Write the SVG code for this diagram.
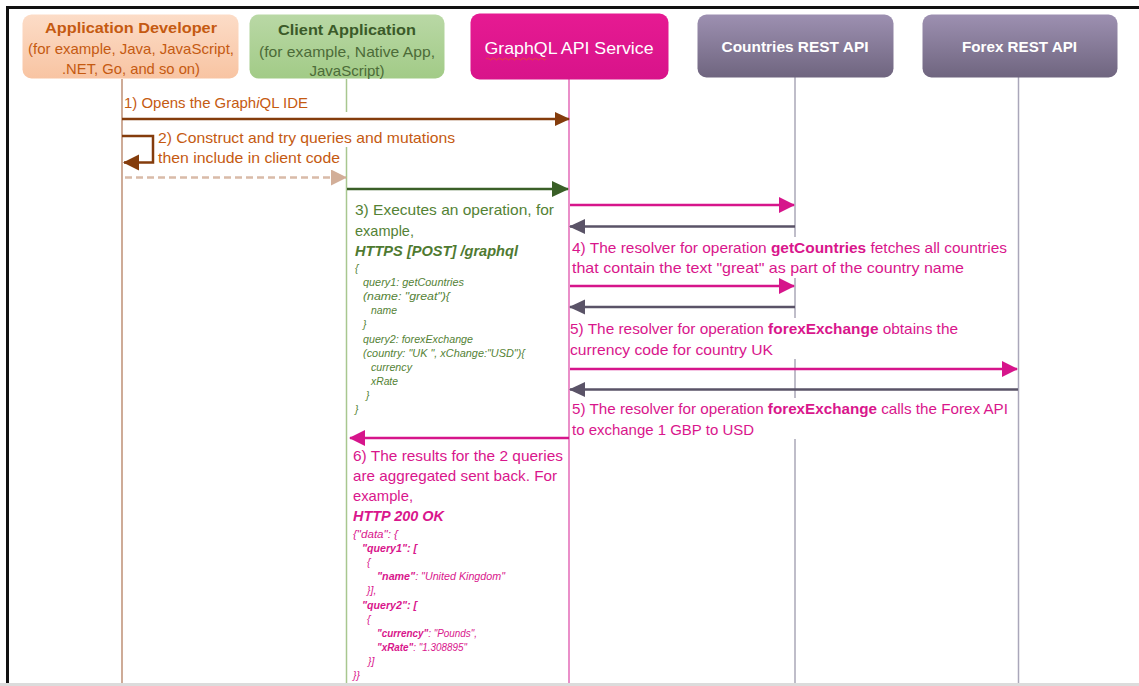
<svg xmlns="http://www.w3.org/2000/svg" width="1139" height="686" viewBox="0 0 1139 686">
<style>
text{font-family:"Liberation Sans",Arial,sans-serif}
.t{font-size:15px}
.o{fill:#c55a11}
.g{fill:#548235}
.p{fill:#d9168c}
.code{font-size:10.5px;font-style:italic}
.b{font-weight:bold}
.bg{fill:#ffffff}
.life{fill:none;stroke-width:1.5}
.hd{font-size:15px;text-anchor:middle}
</style>
<defs>
<linearGradient id="gDev" x1="0" y1="0" x2="0" y2="1"><stop offset="0" stop-color="#fcdcc7"/><stop offset="1" stop-color="#f8c4a2"/></linearGradient>
<linearGradient id="gCli" x1="0" y1="0" x2="0" y2="1"><stop offset="0" stop-color="#b9d8a5"/><stop offset="1" stop-color="#a2cb87"/></linearGradient>
<linearGradient id="gGql" x1="0" y1="0" x2="0" y2="1"><stop offset="0" stop-color="#e61a92"/><stop offset="1" stop-color="#d8138a"/></linearGradient>
<linearGradient id="gRest" x1="0" y1="0" x2="0" y2="1"><stop offset="0" stop-color="#9d90b1"/><stop offset="1" stop-color="#6f657f"/></linearGradient>
<marker id="aBrown" markerUnits="userSpaceOnUse" markerWidth="18" markerHeight="18" refX="14" refY="7" orient="auto"><path d="M0,0 L15,7 L0,14 z" fill="#843c0c"/></marker>
<marker id="aBrownL" markerUnits="userSpaceOnUse" markerWidth="18" markerHeight="18" refX="15" refY="8" orient="auto"><path d="M0,0 L16,8 L0,16 z" fill="#843c0c"/></marker>
<marker id="aTan" markerUnits="userSpaceOnUse" markerWidth="18" markerHeight="18" refX="15" refY="8" orient="auto"><path d="M0,0 L16,8 L0,16 z" fill="#d2ae98"/></marker>
<marker id="aGreen" markerUnits="userSpaceOnUse" markerWidth="18" markerHeight="18" refX="16" refY="8" orient="auto"><path d="M0,0 L17,8 L0,16 z" fill="#3a5f27"/></marker>
<marker id="aPink" markerUnits="userSpaceOnUse" markerWidth="18" markerHeight="18" refX="15" refY="8" orient="auto"><path d="M0,0 L16,8 L0,16 z" fill="#d6158b"/></marker>
<marker id="aDark" markerUnits="userSpaceOnUse" markerWidth="18" markerHeight="18" refX="15" refY="7.5" orient="auto"><path d="M0,0 L16,7.5 L0,15 z" fill="#5a5367"/></marker>
</defs>
<rect width="1139" height="686" fill="#ffffff"/>
<!-- frame -->
<line x1="6" y1="7.5" x2="1139" y2="7.5" stroke="#111" stroke-width="3"/>
<line x1="7.5" y1="6" x2="7.5" y2="684" stroke="#111" stroke-width="3"/>
<rect x="0" y="683" width="1139" height="3" fill="#dcdcdc"/>

<!-- lifelines -->
<g id="lifelines">
<line class="life" x1="122" y1="79" x2="122" y2="683" stroke="#be8f74"/>
<line class="life" x1="346.5" y1="79" x2="346.5" y2="683" stroke="#a8c78f"/>
<line class="life" x1="569" y1="79" x2="569" y2="683" stroke="#e36ab7"/>
<line class="life" x1="795" y1="77" x2="795" y2="683" stroke="#aaa7b7"/>
<line class="life" x1="1018.5" y1="77" x2="1018.5" y2="683" stroke="#aaa7ba"/>
</g>

<!-- label backgrounds -->
<g id="label-bgs">
<rect class="bg" x="155" y="112" width="302" height="35"/>
<rect class="bg" x="350" y="198" width="212" height="220"/>
<rect class="bg" x="571" y="237" width="440" height="41"/>
<rect class="bg" x="571" y="318" width="390" height="41"/>
<rect class="bg" x="571" y="398" width="440" height="41"/>
<rect class="bg" x="350" y="445" width="214" height="237"/>
</g>

<!-- headers -->
<g id="app-developer">
<rect x="22.5" y="14.5" width="216" height="64" rx="9" fill="url(#gDev)"/>
<text class="hd o b" x="131" y="33" textLength="172" lengthAdjust="spacingAndGlyphs">Application Developer</text>
<text class="hd o" x="131" y="54" textLength="206" lengthAdjust="spacingAndGlyphs">(for example, Java, JavaScript,</text>
<text class="hd o" x="131" y="74" textLength="138" lengthAdjust="spacingAndGlyphs">.NET, Go, and so on)</text>
</g>
<g id="client-application">
<rect x="249.5" y="14.5" width="195" height="64" rx="9" fill="url(#gCli)"/>
<text class="hd b" x="347" y="35" fill="#3b5a29" textLength="138" lengthAdjust="spacingAndGlyphs">Client Application</text>
<text class="hd" x="347" y="57" fill="#4c6b38" textLength="176" lengthAdjust="spacingAndGlyphs">(for example, Native App,</text>
<text class="hd" x="347" y="76" fill="#4c6b38" textLength="75" lengthAdjust="spacingAndGlyphs">JavaScript)</text>
</g>
<g id="graphql-api-service">
<rect x="470.5" y="13.5" width="198" height="66" rx="9" fill="url(#gGql)"/>
<text x="569" y="54" font-size="17" fill="#ffffff" text-anchor="middle" textLength="169" lengthAdjust="spacingAndGlyphs">GraphQL API Service</text>
<path d="M486,59 q1.5,-2 3,0 t3,0 t3,0 t3,0 t3,0 t3,0 t3,0 t3,0 t3,0 t3,0 t3,0 t3,0 t3,0 t3,0 t3,0 t3,0 t3,0 t3,0 t3,0 t3,0" fill="none" stroke="#e8433f" stroke-width="1"/>
</g>
<g id="countries-rest-api">
<rect x="697.5" y="14.5" width="196" height="63" rx="9" fill="url(#gRest)"/>
<text class="hd b" x="795" y="52" fill="#ffffff" textLength="147" lengthAdjust="spacingAndGlyphs">Countries REST API</text>
</g>
<g id="forex-rest-api">
<rect x="922.5" y="14.5" width="195" height="63" rx="9" fill="url(#gRest)"/>
<text class="hd b" x="1019.5" y="52" fill="#ffffff" textLength="115" lengthAdjust="spacingAndGlyphs">Forex REST API</text>
</g>

<!-- connectors -->
<g id="connectors" fill="none" stroke-width="2.5">
<line x1="122" y1="119" x2="569" y2="119" stroke="#843c0c" marker-end="url(#aBrown)"/>
<path d="M122,136 H153 V162.5 H124" stroke="#843c0c" marker-end="url(#aBrownL)"/>
<line x1="125" y1="177.5" x2="346" y2="177.5" stroke="#d9bba8" stroke-dasharray="7,4" marker-end="url(#aTan)"/>
<line x1="347" y1="189" x2="568" y2="189" stroke="#3a5f27" marker-end="url(#aGreen)"/>
<line x1="570" y1="205" x2="794" y2="205" stroke="#d6158b" marker-end="url(#aPink)"/>
<line x1="795" y1="226.5" x2="570" y2="226.5" stroke="#5a5367" marker-end="url(#aDark)"/>
<line x1="570" y1="286" x2="794" y2="286" stroke="#d6158b" marker-end="url(#aPink)"/>
<line x1="795" y1="307" x2="570" y2="307" stroke="#5a5367" marker-end="url(#aDark)"/>
<line x1="570" y1="369" x2="1017" y2="369" stroke="#d6158b" marker-end="url(#aPink)"/>
<line x1="1018" y1="389.5" x2="570" y2="389.5" stroke="#5a5367" marker-end="url(#aDark)"/>
<line x1="569" y1="438" x2="350" y2="438" stroke="#d6158b" marker-end="url(#aPink)"/>
</g>

<!-- labels -->
<g id="label-1">
<text class="t o" x="124" y="108" textLength="184" lengthAdjust="spacingAndGlyphs">1) Opens the Graph<tspan font-style="italic">i</tspan>QL IDE</text>
</g>
<g id="label-2">
<text class="t o" x="158" y="143" textLength="297" lengthAdjust="spacingAndGlyphs">2) Construct and try queries and mutations</text>
<text class="t o" x="158" y="163" textLength="182" lengthAdjust="spacingAndGlyphs">then include in client code</text>
</g>
<g id="label-3">
<text class="t g" x="355" y="215" textLength="199" lengthAdjust="spacingAndGlyphs">3) Executes an operation, for</text>
<text class="t g" x="355" y="236" textLength="59" lengthAdjust="spacingAndGlyphs">example,</text>
<text class="t b" x="355" y="256" fill="#4f7a31" font-style="italic" textLength="163" lengthAdjust="spacingAndGlyphs">HTTPS [POST] /graphql</text>
<text class="code g" x="355" y="272">{</text>
<text class="code g" x="363" y="286" textLength="101" lengthAdjust="spacingAndGlyphs">query1: getCountries</text>
<text class="code g" x="363" y="300" textLength="87" lengthAdjust="spacingAndGlyphs">(name: "great"){</text>
<text class="code g" x="371" y="314" textLength="26" lengthAdjust="spacingAndGlyphs">name</text>
<text class="code g" x="363" y="328">}</text>
<text class="code g" x="363" y="343" textLength="110" lengthAdjust="spacingAndGlyphs">query2: forexExchange</text>
<text class="code g" x="363" y="357" textLength="162" lengthAdjust="spacingAndGlyphs">(country: "UK ", xChange:"USD"){</text>
<text class="code g" x="371" y="371" textLength="41" lengthAdjust="spacingAndGlyphs">currency</text>
<text class="code g" x="371" y="385" textLength="27" lengthAdjust="spacingAndGlyphs">xRate</text>
<text class="code g" x="366" y="399">}</text>
<text class="code g" x="355" y="413">}</text>
</g>
<g id="label-4">
<text class="t p" x="572" y="253" textLength="435" lengthAdjust="spacingAndGlyphs">4) The resolver for operation <tspan class="b">getCountries</tspan> fetches all countries</text>
<text class="t p" x="572" y="273" textLength="392" lengthAdjust="spacingAndGlyphs">that contain the text "great" as part of the country name</text>
</g>
<g id="label-5a">
<text class="t p" x="570" y="334" textLength="388" lengthAdjust="spacingAndGlyphs">5) The resolver for operation <tspan class="b">forexExchange</tspan> obtains the</text>
<text class="t p" x="570" y="355" textLength="203" lengthAdjust="spacingAndGlyphs">currency code for country UK</text>
</g>
<g id="label-5b">
<text class="t p" x="572" y="414" textLength="436" lengthAdjust="spacingAndGlyphs">5) The resolver for operation <tspan class="b">forexExchange</tspan> calls the Forex API</text>
<text class="t p" x="572" y="435" textLength="182" lengthAdjust="spacingAndGlyphs">to exchange 1 GBP to USD</text>
</g>
<g id="label-6">
<text class="t p" x="353" y="461" textLength="210" lengthAdjust="spacingAndGlyphs">6) The results for the 2 queries</text>
<text class="t p" x="353" y="481" textLength="204" lengthAdjust="spacingAndGlyphs">are aggregated sent back. For</text>
<text class="t p" x="353" y="501" textLength="60" lengthAdjust="spacingAndGlyphs">example,</text>
<text class="t p b" x="353" y="521" font-style="italic" textLength="91" lengthAdjust="spacingAndGlyphs">HTTP 200 OK</text>
<text class="code p" x="353" y="538" font-size="10" textLength="45" lengthAdjust="spacingAndGlyphs">{"data": {</text>
<text class="code p b" x="362" y="552" font-size="10" textLength="55" lengthAdjust="spacingAndGlyphs">"query1": [</text>
<text class="code p" x="367" y="566" font-size="10">{</text>
<text class="code p" x="377" y="580" font-size="10" textLength="128" lengthAdjust="spacingAndGlyphs"><tspan class="b">"name"</tspan>: "United Kingdom"</text>
<text class="code p" x="367" y="594" font-size="10">}],</text>
<text class="code p b" x="362" y="609" font-size="10" textLength="55" lengthAdjust="spacingAndGlyphs">"query2": [</text>
<text class="code p" x="367" y="623" font-size="10">{</text>
<text class="code p" x="377" y="637" font-size="10" textLength="100" lengthAdjust="spacingAndGlyphs"><tspan class="b">"currency"</tspan>: "Pounds",</text>
<text class="code p" x="377" y="651" font-size="10" textLength="90" lengthAdjust="spacingAndGlyphs"><tspan class="b">"xRate"</tspan>: "1.308895"</text>
<text class="code p" x="368" y="665" font-size="10">}]</text>
<text class="code p" x="353" y="679" font-size="10">}}</text>
</g>
</svg>
